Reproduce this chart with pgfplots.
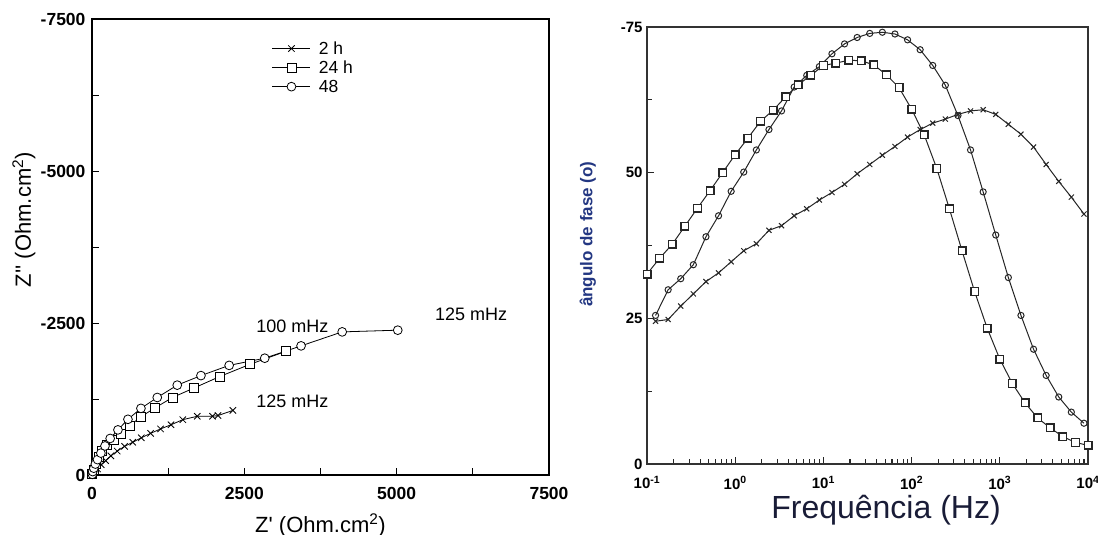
\documentclass[border=0pt]{standalone}
\usepackage{fontspec}
\setmainfont{Liberation Sans}
\usepackage{pgfplots}
\pgfplotsset{compat=1.18}
\usepackage{pgfplotstable}
\definecolor{ylab}{RGB}{35,55,130}
\definecolor{xlab}{RGB}{25,28,55}

% Bode phase data (f in Hz, phase in degrees)
\pgfplotstableread{
f angle
0.1 32.6
0.1389 35.3
0.1931 37.7
0.2683 40.8
0.3728 43.9
0.5179 46.9
0.7197 50.0
1 53.1
1.389 55.9
1.931 58.8
2.683 60.7
3.728 63.0
5.179 65.1
7.197 66.7
10 68.4
13.89 68.8
19.31 69.3
26.83 69.2
37.28 68.5
51.79 66.8
71.97 64.6
100 60.9
138.9 56.5
193.1 50.7
268.3 43.8
372.8 36.6
517.9 29.6
719.7 23.3
1000 18.0
1389 13.8
1931 10.5
2683 7.9
3728 6.2
5179 4.7
7197 3.7
10000 3.2
}\sqdata

\pgfplotstableread{
f angle
0.125 25.5
0.1737 29.9
0.2413 31.8
0.3353 34.2
0.4660 39.0
0.6474 42.6
0.8996 46.8
1.25 50.1
1.737 53.9
2.413 57.4
3.353 60.6
4.660 64.7
6.474 66.7
8.996 68.2
12.5 70.4
17.37 72.1
24.13 73.2
33.53 73.9
46.60 74.1
64.74 73.8
89.96 72.8
125 71.1
173.7 68.4
241.3 65.0
335.3 59.8
466.0 53.9
647.4 46.7
899.6 39.3
1250 32.0
1737 25.5
2413 19.7
3353 15.2
4660 11.5
6474 8.9
8996 7.0
}\cidata

\pgfplotstableread{
f angle
0.125 24.5
0.1737 24.8
0.2413 27.1
0.3353 29.2
0.4660 31.3
0.6474 32.8
0.8996 34.7
1.25 36.6
1.737 37.8
2.413 40.1
3.353 40.9
4.660 42.6
6.474 43.8
8.996 45.3
12.5 46.6
17.37 48.0
24.13 49.8
33.53 51.4
46.60 53.0
64.74 54.5
89.96 56.1
125 57.4
173.7 58.5
241.3 59.2
335.3 60.0
466.0 60.6
647.4 60.8
899.6 60.0
1250 58.3
1737 56.6
2413 54.4
3353 51.4
4660 48.5
6474 45.8
8996 42.9
}\crdata

\begin{document}
\begin{tikzpicture}
\useasboundingbox (0,0) rectangle (1098pt,535pt);

% ---------------- Left: Nyquist ----------------
\begin{axis}[
  at={(92pt,60pt)}, anchor=south west,
  width=457pt, height=456pt, scale only axis,
  xmin=0, xmax=7500, ymin=-7500, ymax=0, y dir=reverse,
  xtick={0,2500,5000,7500}, xticklabels={0,2500,5000,7500},
  minor xtick={1250,3750,6250},
  ytick={-7500,-5000,-2500,0}, yticklabels={-7500,-5000,-2500,0},
  minor ytick={-6250,-3750,-1250},
  tick align=inside, xtick pos=lower, ytick pos=left,
  major tick length=7pt, minor tick length=7pt,
  tick style={line width=0.9pt, black},
  axis line style={line width=1.2pt},
  ticklabel style={font=\fontsize{17.5pt}{20pt}\selectfont\bfseries},
  xticklabel style={yshift=-9pt},
  yticklabel style={xshift=-3pt},
  xlabel={Z\textquotesingle\ (Ohm.cm\textsuperscript{2})},
  ylabel={Z\textquotesingle\textquotesingle\ (Ohm.cm\textsuperscript{2})},
  label style={font=\fontsize{22pt}{26pt}\selectfont},
  xlabel style={at={(axis description cs:0.5,-0.11)}, anchor=center},
  ylabel style={at={(axis description cs:-0.149,0.56)}, anchor=center, rotate=0},
  legend style={at={(0.387,0.96)}, anchor=north west, draw=none, fill=none,
    font=\fontsize{17.5pt}{20pt}\selectfont, row sep=1pt},
  legend cell align=left,
  legend image code/.code={\draw[mark repeat=2,mark phase=2,#1] plot coordinates {(0pt,0pt) (19pt,0pt) (38pt,0pt)};},
]
\addplot[black, line width=0.8pt, mark=x, mark size=4.5pt] coordinates {
(12,-11)(43,-45)(91,-101)(152,-169)(225,-236)(310,-315)(414,-393)(535,-472)
(669,-539)(809,-612)(961,-685)(1125,-758)(1296,-826)(1490,-910)(1728,-966)
(1977,-966)(2068,-978)(2312,-1062)};
\addlegendentry{\hspace{6pt}2 h}
\addplot[black, line width=0.8pt, mark=square*, mark size=4.5pt, mark options={fill=white}] coordinates {
(6,-11)(24,-79)(60,-180)(110,-292)(170,-404)(249,-489)(353,-573)(468,-674)
(614,-803)(797,-955)(1040,-1107)(1320,-1275)(1679,-1433)(2093,-1618)(2591,-1820)(3181,-2034)};
\addlegendentry{\hspace{6pt}24 h}
\addplot[black, line width=0.8pt, mark=*, mark size=4.4pt, mark options={fill=white}] coordinates {
(6,-11)(12,-56)(30,-112)(55,-180)(91,-253)(146,-360)(213,-478)(298,-601)
(426,-742)(590,-916)(803,-1096)(1071,-1275)(1399,-1478)(1788,-1635)(2251,-1803)
(2835,-1921)(3431,-2124)(4106,-2354)(5018,-2382)};
\addlegendentry{\hspace{6pt}48}
\node[font=\fontsize{18pt}{21pt}\selectfont] at (axis cs:3290,-2438) {100 mHz};
\node[font=\fontsize{18pt}{21pt}\selectfont] at (axis cs:6223,-2640) {125 mHz};
\node[font=\fontsize{18pt}{21pt}\selectfont] at (axis cs:3290,-1219) {125 mHz};
\end{axis}

% ---------------- Right: Bode phase ----------------
\begin{axis}[
  at={(647pt,71pt)}, anchor=south west,
  width=441pt, height=437pt, scale only axis,
  xmode=log, xmin=0.1, xmax=10000, ymin=0, ymax=75,
  xtick={0.1,1,10,100,1000,10000},
  xticklabels={10\textsuperscript{-1},10\textsuperscript{0},10\textsuperscript{1},10\textsuperscript{2},10\textsuperscript{3},10\textsuperscript{4}},
  minor xtick={0.2,0.3,0.4,0.5,0.6,0.7,0.8,0.9,2,3,4,5,6,7,8,9,20,30,40,50,60,70,80,90,200,300,400,500,600,700,800,900,2000,3000,4000,5000,6000,7000,8000,9000},
  ytick={0,25,50,75}, yticklabels={0,25,50,-75},
  minor ytick={12.5,37.5,62.5},
  tick align=inside, xtick pos=lower, ytick pos=left,
  major tick length=7pt, minor tick length=5pt,
  tick style={line width=1.1pt, black!85},
  axis line style={line width=1.8pt, black!80},
  ticklabel style={font=\fontsize{15pt}{18pt}\selectfont\bfseries},
  xticklabel style={yshift=-9pt},
  yticklabel style={xshift=-1pt},
  xlabel={Frequência (Hz)},
  ylabel={ângulo de fase (o)},
  xlabel style={font=\fontsize{32pt}{36pt}\selectfont, text=xlab, at={(axis description cs:0.542,-0.105)}, anchor=center},
  ylabel style={font=\fontsize{17pt}{20pt}\selectfont\bfseries, text=ylab, at={(axis description cs:-0.134,0.526)}, anchor=center},
]
\addplot[black!85, line width=1pt, mark=x, mark size=3.6pt, mark options={solid}] table[x=f,y=angle] {\crdata};
\addplot[black!85, line width=1pt, mark=o, mark size=3.1pt, mark options={solid}] table[x=f,y=angle] {\cidata};
\addplot[black!85, line width=1pt, mark=square*, mark size=3.8pt, mark options={fill=white, line width=1.4pt}] table[x=f,y=angle] {\sqdata};
\end{axis}
\end{tikzpicture}
\end{document}
